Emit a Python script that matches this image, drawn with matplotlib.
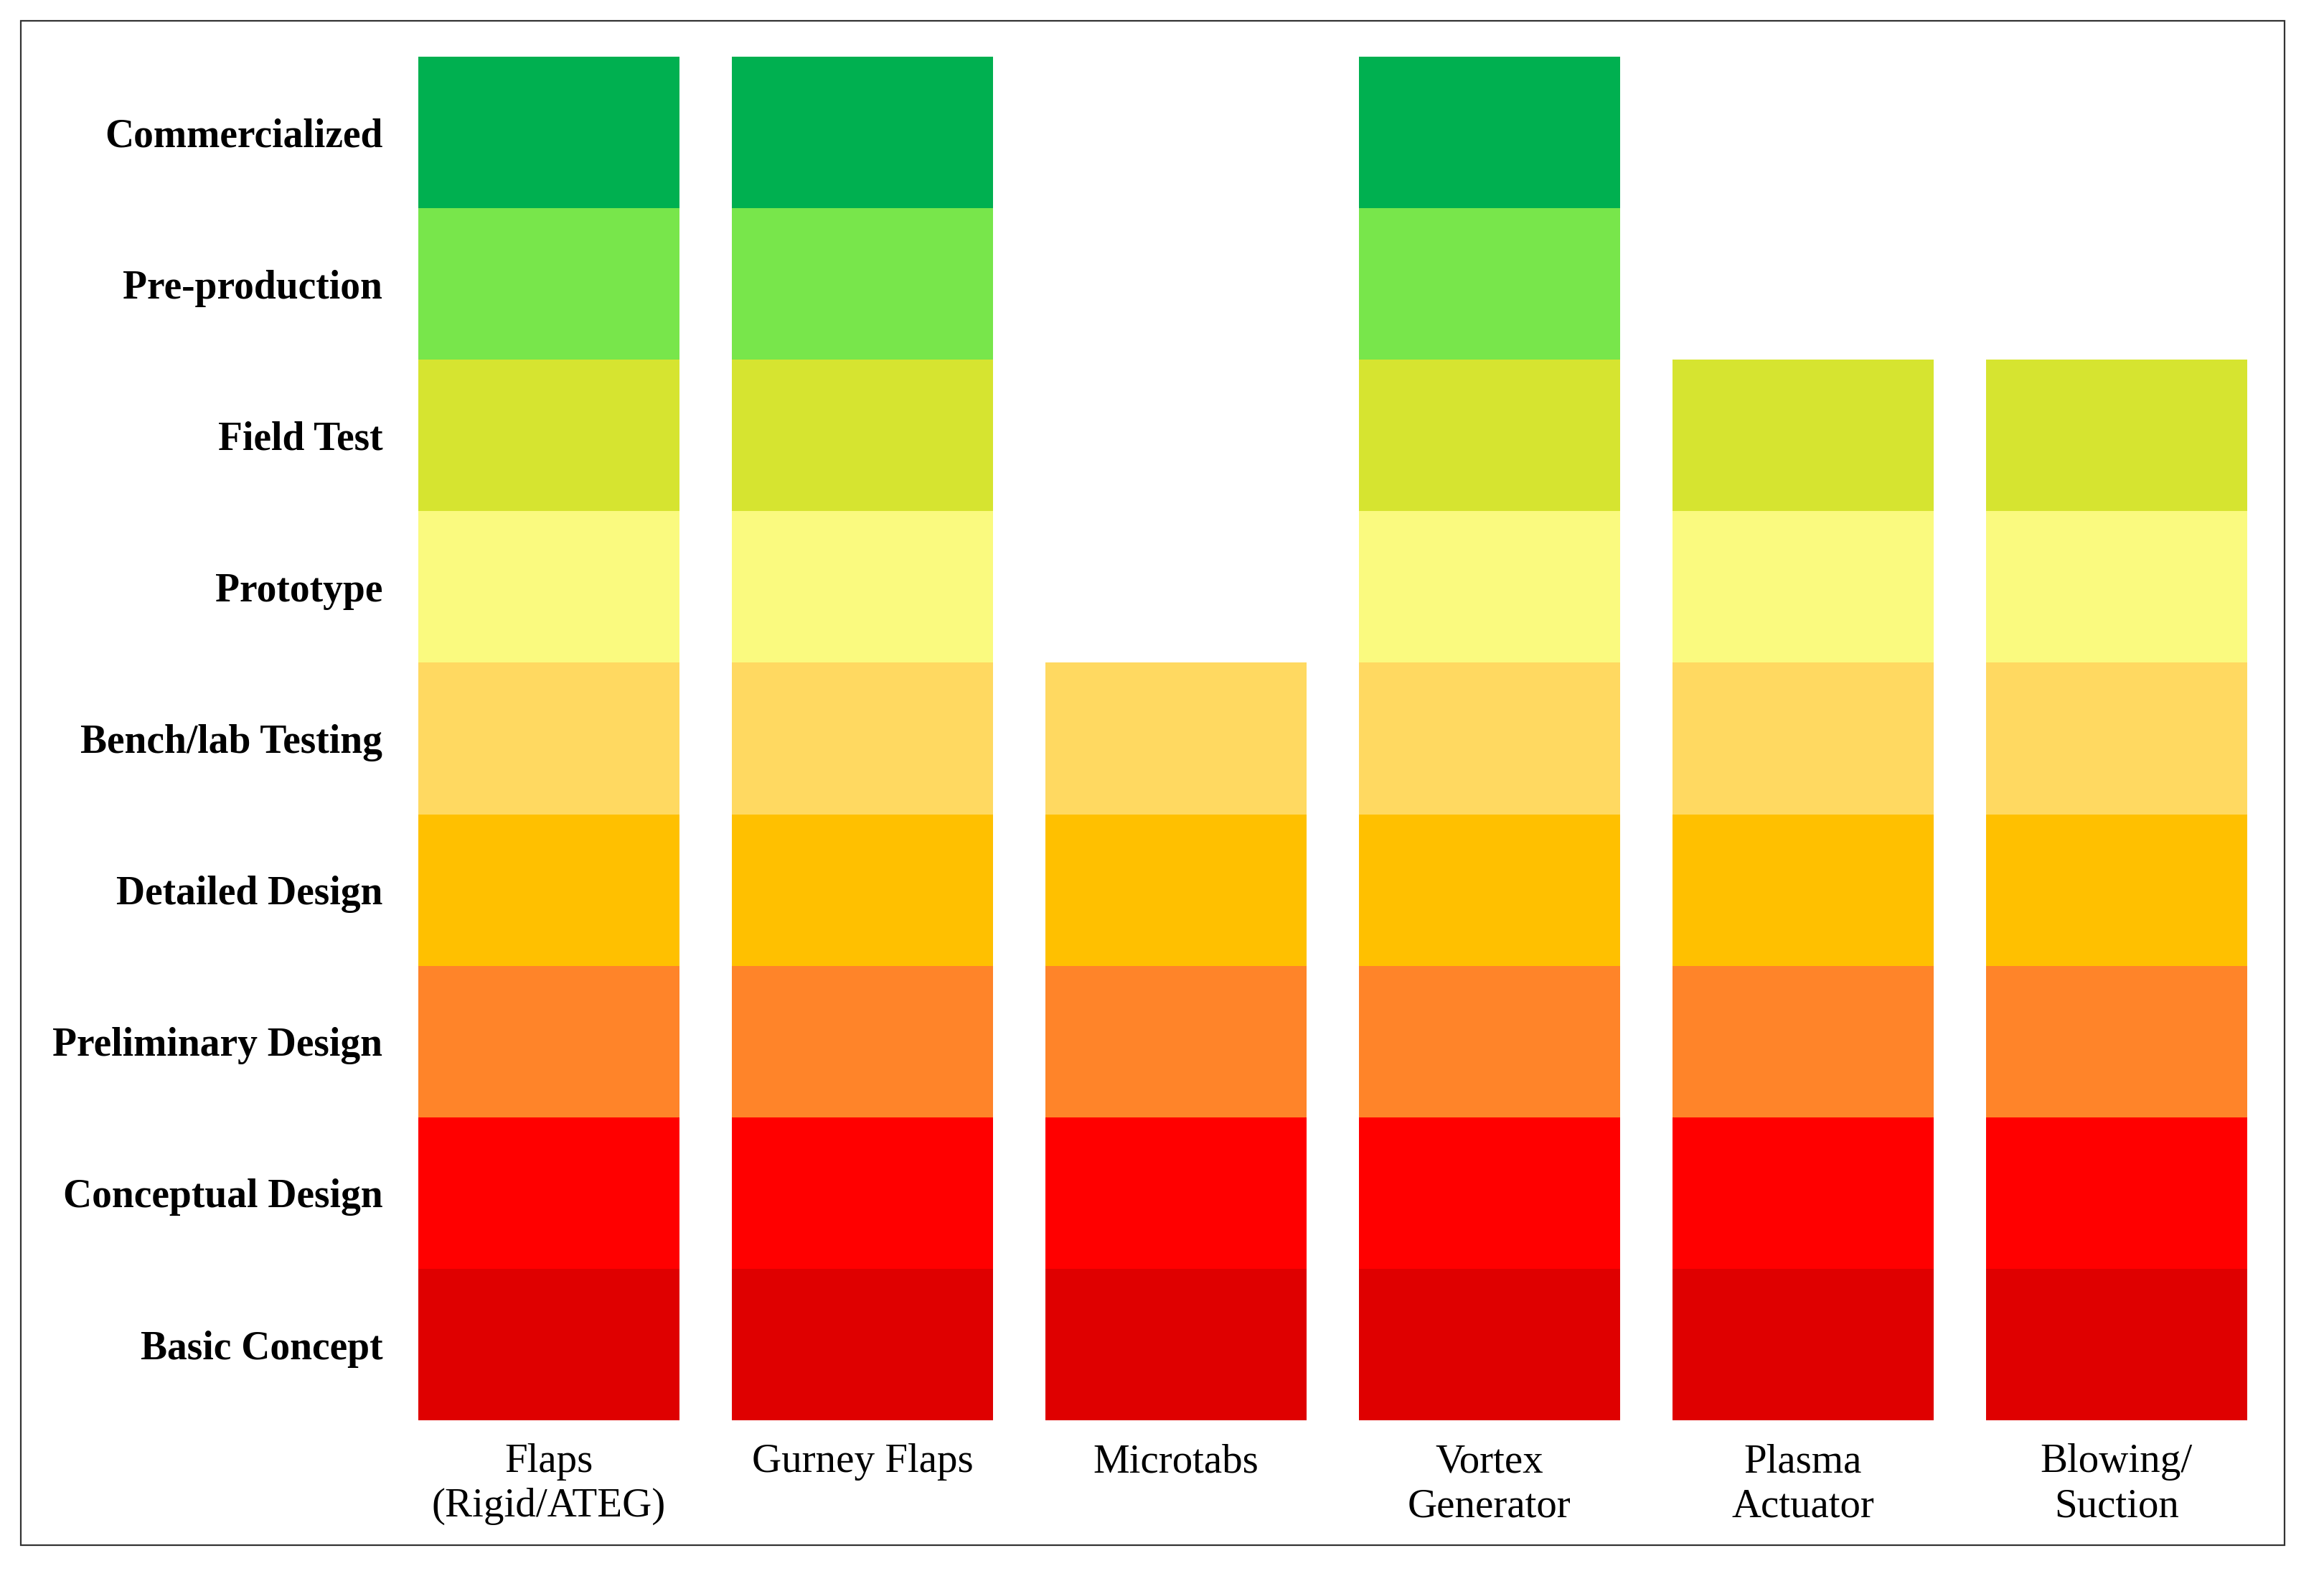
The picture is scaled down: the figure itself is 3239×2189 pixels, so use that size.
import matplotlib.pyplot as plt
from matplotlib.patches import Rectangle

stages = ["Basic Concept", "Conceptual Design", "Preliminary Design", "Detailed Design",
          "Bench/lab Testing", "Prototype", "Field Test", "Pre-production", "Commercialized"]
stage_colors = ["#DF0000", "#FF0000", "#FF8429", "#FFC000", "#FFD961",
                "#FAFA7F", "#D6E430", "#78E64B", "#00B050"]
technologies = ["Flaps\n(Rigid/ATEG)", "Gurney Flaps", "Microtabs",
                "Vortex\nGenerator", "Plasma\nActuator", "Blowing/\nSuction"]
# highest stage reached (number of stages completed)
levels = [9, 9, 5, 9, 7, 7]

plt.rcParams["font.family"] = ["Liberation Serif", "DejaVu Serif"]

fig = plt.figure(figsize=(32.39, 21.89), dpi=100)
ax = fig.add_axes([0.1687, 0.0959, 0.8095, 0.868])

x = list(range(len(technologies)))
for i, color in enumerate(stage_colors):
    xs = [xi for xi, lv in zip(x, levels) if lv > i]
    ax.bar(xs, [1] * len(xs), bottom=i, width=0.833, color=color,
           linewidth=0, align="center")

ax.set_xlim(-0.5, len(technologies) - 0.5)
ax.set_ylim(0, len(stages))
ax.set_xticks(x)
ax.set_xticklabels(technologies, fontsize=41, linespacing=1.25)
ax.set_yticks([i + 0.5 for i in range(len(stages))])
ax.set_yticklabels(stages, fontsize=40, fontweight="bold")
ax.tick_params(axis="x", length=0, pad=23)
ax.tick_params(axis="y", length=0, pad=9.5)
for s in ax.spines.values():
    s.set_visible(False)

# outer frame
fig.patches.append(Rectangle((0.00895, 0.01645), 0.974, 0.9703, transform=fig.transFigure,
                             fill=False, edgecolor="#333333", linewidth=1.6))

fig.savefig("out.png", dpi=100, facecolor="white")
